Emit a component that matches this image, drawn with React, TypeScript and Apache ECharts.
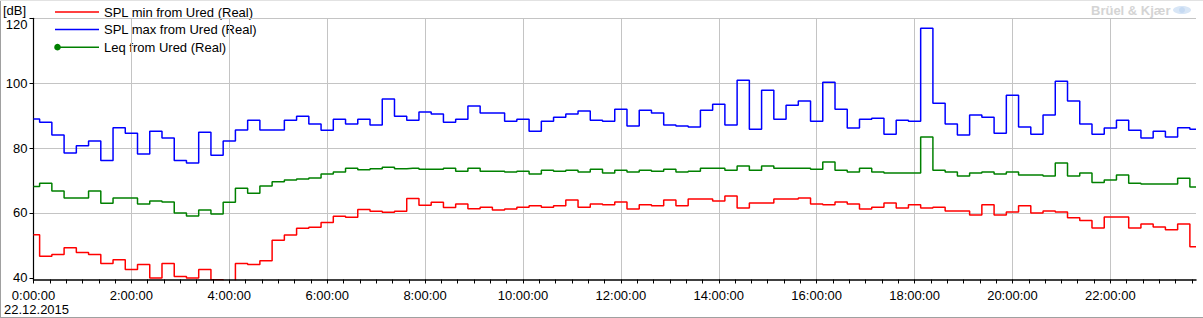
import React, { useEffect, useRef } from "react";
import * as echarts from "echarts";

// 15-minute samples, 22.12.2015, 0:00 … 23:45
const SPL_MIN = [
  53.3, 46.7, 47.2, 49.3, 47.8, 47.2, 44.4, 45.6, 42.6, 44.1, 40.0, 44.4, 40.4, 40.0, 42.6, 39.4,
  37.5, 44.4, 44.1, 45.3, 51.6, 53.2, 55.3, 55.6, 57.1, 59.0, 58.7, 61.1, 60.5, 60.2, 60.5, 64.5,
  62.4, 63.3, 61.7, 62.8, 61.3, 61.8, 60.9, 61.2, 61.8, 62.2, 61.8, 62.2, 64.0, 61.8, 62.8, 62.5,
  63.4, 61.2, 62.5, 62.2, 64.0, 62.2, 64.3, 64.3, 63.7, 65.2, 61.5, 63.1, 63.1, 64.3, 64.3, 64.6,
  62.8, 62.5, 63.4, 62.8, 61.2, 61.8, 63.1, 61.5, 62.5, 61.5, 61.8, 60.6, 60.6, 59.4, 62.5, 59.4,
  60.3, 62.2, 60.0, 60.6, 60.3, 58.5, 57.7, 55.4, 58.8, 58.8, 55.4, 56.6, 55.7, 54.8, 56.6, 49.6,
];
const SPL_MAX = [
  89.0, 88.0, 84.0, 78.5, 80.7, 82.2, 76.2, 86.3, 84.6, 78.2, 85.2, 83.1, 76.2, 75.4, 84.9, 77.8,
  82.2, 85.6, 88.6, 85.6, 85.6, 88.6, 89.8, 87.4, 85.5, 88.9, 87.4, 88.9, 87.1, 95.1, 89.8, 88.6,
  91.1, 90.5, 88.0, 88.9, 93.0, 90.8, 90.8, 88.3, 88.9, 85.2, 88.3, 89.5, 90.5, 91.4, 88.6, 88.3,
  92.0, 86.8, 91.7, 90.8, 87.1, 86.8, 86.5, 91.7, 93.5, 87.1, 100.9, 85.8, 97.8, 88.9, 93.2, 94.5,
  88.3, 100.3, 92.0, 86.2, 88.9, 89.2, 84.3, 88.6, 88.3, 116.9, 93.8, 87.4, 84.0, 90.2, 89.5, 84.6,
  96.3, 86.5, 84.3, 90.2, 100.6, 94.5, 87.4, 84.3, 86.2, 88.6, 85.5, 83.1, 85.2, 83.4, 86.3, 85.8,
];
const LEQ = [
  68.2, 69.2, 66.8, 64.6, 64.6, 66.8, 63.0, 64.6, 64.6, 62.8, 63.7, 63.4, 60.0, 59.1, 60.9, 59.7,
  63.3, 67.6, 66.1, 68.3, 69.6, 70.2, 70.5, 70.8, 72.0, 72.6, 73.8, 73.3, 73.6, 74.1, 73.6, 73.8,
  73.5, 73.5, 73.8, 72.9, 73.8, 72.9, 72.9, 72.6, 72.9, 72.0, 73.2, 72.9, 73.2, 72.6, 73.5, 72.3,
  73.2, 72.6, 73.2, 72.9, 73.5, 72.6, 72.9, 73.8, 73.8, 73.2, 74.5, 73.2, 74.5, 73.8, 73.8, 73.8,
  73.5, 75.7, 73.2, 72.6, 73.8, 72.6, 72.3, 72.3, 72.3, 83.4, 73.2, 72.6, 71.4, 72.3, 72.6, 72.0,
  72.6, 71.7, 71.7, 71.4, 75.4, 71.4, 72.3, 69.4, 70.2, 71.7, 69.2, 68.9, 68.9, 68.9, 70.7, 68.0,
];
const SAMPLE_MINUTES = 15;
const MINUTES = SPL_MAX.map((_, i) => i * SAMPLE_MINUTES);

const SERIES_NAMES = ["SPL min from Ured (Real)", "SPL max from Ured (Real)", "Leq from Ured (Real)"];
const SERIES_COLORS = ["#ff0000", "#0000ff", "#008000"];
const Y_TICKS = [40, 60, 80, 100, 120];
const X_LABEL_TICKS = [0, 120, 240, 360, 480, 600, 720, 840, 960, 1080, 1200, 1320];
const X_MINOR_STEP = 20;
const X_MAX = 1425;
const DATE_LABEL = "22.12.2015";
const UNIT_LABEL = "[dB]";
const BRAND = "Brüel & Kjær";

const FONT = "'Liberation Sans', Arial, sans-serif";

export default function App() {
  const ref = useRef<HTMLDivElement>(null);

  useEffect(() => {
    if (!ref.current) return;
    const chart = echarts.init(ref.current, undefined, { renderer: "svg" });
    const minorTicks: number[] = [];
    for (let m = 0; m <= X_MAX; m += X_MINOR_STEP) minorTicks.push(m);

    const allSeries = [SPL_MIN, SPL_MAX, LEQ];

    const legendItems: any[] = [];
    SERIES_NAMES.forEach((name, i) => {
      const y = 12 + i * 17.6;
      legendItems.push({
        type: "line",
        shape: { x1: 55, y1: y, x2: 99, y2: y },
        style: { stroke: SERIES_COLORS[i], lineWidth: 1.5 },
        silent: true,
      });
      if (i === 2) {
        legendItems.push({
          type: "circle",
          shape: { cx: 57.5, cy: y, r: 3.3 },
          style: { fill: SERIES_COLORS[i] },
          silent: true,
        });
      }
      legendItems.push({
        type: "text",
        x: 104,
        y: y,
        style: {
          text: name,
          fill: "#000",
          font: `13px ${FONT}`,
          verticalAlign: "middle",
        },
        silent: true,
      });
    });

    chart.setOption({
      animation: false,
      backgroundColor: "#ffffff",
      grid: { left: 33.5, top: 18.3, right: 7, bottom: 38.5, containLabel: false },
      xAxis: [
        {
          type: "value",
          min: 0,
          max: X_MAX,
          interval: 120,
          axisLine: { show: true, onZero: false, lineStyle: { color: "#000", width: 1.5 } },
          axisTick: {
            show: true,
            customValues: minorTicks,
            length: 4,
            lineStyle: { color: "#000", width: 1 },
          },
          axisLabel: {
            customValues: X_LABEL_TICKS,
            formatter: (v: number) => `${Math.round(v / 60)}:00:00`,
            color: "#000",
            fontSize: 13,
            fontFamily: FONT,
            margin: 9,
          },
          splitLine: { show: false },
          z: 5,
        },
        {
          type: "value",
          min: 0,
          max: X_MAX,
          interval: 120,
          position: "bottom",
          axisLine: { show: false },
          axisTick: { show: false },
          axisLabel: { show: false },
          splitLine: {
            show: true,
            showMinLine: false,
            showMaxLine: false,
            lineStyle: { color: "#c4c4c4", width: 1 },
          },
        },
      ],
      yAxis: {
        type: "value",
        min: 39.5,
        max: 120,
        minInterval: 20,
        maxInterval: 20,
        axisLine: { show: true, lineStyle: { color: "#000", width: 1.2 } },
        axisTick: {
          show: true,
          customValues: Y_TICKS,
          length: 4,
          lineStyle: { color: "#000" },
        },
        axisLabel: {
          customValues: Y_TICKS,
          color: "#000",
          fontSize: 13,
          fontFamily: FONT,
          margin: 6,
          verticalAlignMaxLabel: "top",
        },
        splitLine: {
          show: true,
          showMinLine: false,
          lineStyle: { color: "#c4c4c4", width: 1 },
        },
      },
      series: allSeries.map((vals, i) => ({
        name: SERIES_NAMES[i],
        type: "line",
        step: "middle",
        showSymbol: false,
        symbol: "none",
        clip: true,
        xAxisIndex: 0,
        data: MINUTES.map((m, k) => [m, vals[k]]),
        lineStyle: { color: SERIES_COLORS[i], width: 1.5 },
        itemStyle: { color: SERIES_COLORS[i] },
        z: 3 - i,
      })),
      graphic: [
        {
          type: "line",
          shape: { x1: 0.5, y1: 0, x2: 0.5, y2: 318 },
          style: { stroke: "#a0a0a0", lineWidth: 1 },
          silent: true,
        },
        {
          type: "line",
          shape: { x1: 0, y1: 317.5, x2: 1203, y2: 317.5 },
          style: { stroke: "#a0a0a0", lineWidth: 1 },
          silent: true,
        },
        {
          type: "line",
          shape: { x1: 0, y1: 0.5, x2: 1203, y2: 0.5 },
          style: { stroke: "#e2e2e2", lineWidth: 1 },
          silent: true,
        },
        {
          type: "text",
          x: 3,
          y: 10,
          style: { text: UNIT_LABEL, fill: "#000", font: `13px ${FONT}`, verticalAlign: "middle" },
          silent: true,
        },
        {
          type: "text",
          x: 4,
          y: 309,
          style: { text: DATE_LABEL, fill: "#000", font: `13px ${FONT}`, verticalAlign: "middle" },
          silent: true,
        },
        {
          type: "text",
          x: 1091,
          y: 10,
          style: {
            text: BRAND,
            fill: "#d4d4d4",
            font: `bold 13px ${FONT}`,
            verticalAlign: "middle",
          },
          silent: true,
        },
        {
          type: "ellipse",
          shape: { cx: 1182, cy: 10, rx: 9, ry: 4 },
          style: { fill: "#d8e6f6" },
          silent: true,
        },
        {
          type: "circle",
          shape: { cx: 1182, cy: 10, r: 3 },
          style: { fill: "#c6daf2" },
          silent: true,
        },
        ...legendItems,
      ],
    });
    return () => chart.dispose();
  }, []);

  return (
    <div
      ref={ref}
      style={{ position: "fixed", left: 0, top: 0, width: 1203, height: 318, background: "#fff" }}
    />
  );
}
